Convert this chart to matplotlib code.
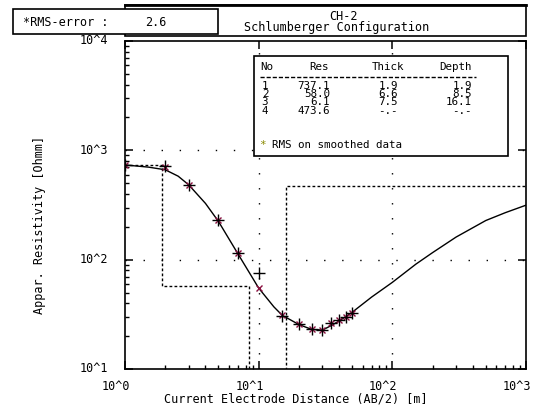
import matplotlib
matplotlib.use("Agg")
import matplotlib.pyplot as plt
import numpy as np
from matplotlib.ticker import LogLocator, NullFormatter
from matplotlib.patches import Rectangle
from matplotlib.lines import Line2D

# layered model (table values)
layer_no = [1, 2, 3, 4]
layer_res = [737.1, 58.0, 6.1, 473.6]
layer_thick = ['1.9', '6.6', '7.5', '-.-']
layer_depth = ['1.9', '8.5', '16.1', '-.-']
depths = [1.9, 8.5, 16.1]

# sounding data
ab2 = [1, 2, 3, 5, 7, 10, 15, 20, 25, 30, 35, 40, 45, 50]
rho_meas = [737, 721, 483, 230, 116, 75.3, 30.7, 25.8, 23.1, 22.9, 26.1, 28.0, 30.1, 32.5]
rho_smooth = [737, 700, 483, 230, 116, 55.2, 31.0, 25.8, 23.1, 22.9, 26.1, 28.0, 30.1, 32.5]

# model response curve
curve_x = [1, 1.5, 2, 2.5, 3, 4, 5, 7, 10, 13, 15, 20, 25, 30, 35, 40, 50,
           70, 100, 150, 200, 300, 500, 700, 1000]
curve_y = [735, 702, 664, 580, 483, 327, 224, 113, 55, 37, 31, 25.5, 23.0, 22.7,
           25.0, 27.5, 33.0, 45.5, 62, 91, 116, 161, 228, 269, 315]

W, H = 539, 408
FONT = 'DejaVu Sans Mono'
FS = 8.5
FS_TAB = 7.8


def fx(px):
    return px / W


def fy(py):
    return 1 - py / H


fig = plt.figure(figsize=(W / 100, H / 100), dpi=100)
ax = fig.add_axes([fx(125), fy(369), (526 - 125) / W, (369 - 41) / H])
ax.set_xscale('log')
ax.set_yscale('log')
ax.set_xlim(1, 1000)
ax.set_ylim(10, 10000)

for s in ax.spines.values():
    s.set_linewidth(1.2)

ax.xaxis.set_minor_locator(LogLocator(base=10, subs=range(2, 10)))
ax.yaxis.set_minor_locator(LogLocator(base=10, subs=range(2, 10)))
ax.xaxis.set_minor_formatter(NullFormatter())
ax.yaxis.set_minor_formatter(NullFormatter())
ax.set_xticks([1, 10, 100, 1000])
ax.set_yticks([10, 100, 1000, 10000])
ax.set_xticklabels([])
ax.set_yticklabels([])
ax.tick_params(which='major', direction='in', length=6, width=1.1,
               top=True, right=True, bottom=True, left=True)
ax.tick_params(which='minor', direction='in', length=3, width=1.0,
               top=False, right=False, bottom=True, left=True)

# dotted grid
for yv in [100, 1000]:
    ax.axhline(yv, color='black', lw=1.0, ls=(0, (1, 12)), zorder=1)
for xv in [10, 100]:
    ax.axvline(xv, color='black', lw=1.0, ls=(0, (1, 9.8)), zorder=1)

# model as dashed steps
mx = [1] + list(np.repeat(depths, 2)) + [1000]
my = list(np.repeat(layer_res, 2))
ax.plot(mx, my, color='black', lw=1.0, ls=(0, (2, 1.6)), zorder=2)

# response curve and data
ax.plot(curve_x, curve_y, color='black', lw=1.0, zorder=3)
ax.plot(ab2, rho_smooth, ls='none', marker='x', ms=5, mew=1.0, color='#8a1040', zorder=4)
ax.plot(ab2, rho_meas, ls='none', marker='+', ms=8, mew=1.0, color='black', zorder=5)

# tick labels
for v, lab in zip([1, 10, 100, 1000], ['10^0', '10^1', '10^2', '10^3']):
    x_ax = np.log10(v) / 3
    fig.text(fx(125 + x_ax * 401 - 9), fy(386), lab, family=FONT, fontsize=FS,
             ha='center', va='center')
for v, lab in zip([10, 100, 1000, 10000], ['10^1', '10^2', '10^3', '10^4']):
    y_ax = (np.log10(v) - 1) / 3
    fig.text(fx(108), fy(369 - y_ax * 328), lab, family=FONT, fontsize=FS,
             ha='right', va='center')

fig.text(fx(296), fy(399), 'Current Electrode Distance (AB/2) [m]', family=FONT,
         fontsize=FS, ha='center', va='center')
fig.text(fx(40), fy(225), 'Appar. Resistivity [Ohmm]', family=FONT, fontsize=FS,
         ha='center', va='center', rotation=90)

# title box and RMS box
fig.patches.append(Rectangle((fx(125), fy(36)), (526 - 125) / W, 31 / H,
                             transform=fig.transFigure, fill=False, lw=1.2,
                             edgecolor='black'))
fig.lines.append(Line2D([fx(125), fx(526)], [fy(5), fy(5)], transform=fig.transFigure,
                        color='black', lw=2.0))
fig.patches.append(Rectangle((fx(13), fy(34)), (218 - 13) / W, 25 / H,
                             transform=fig.transFigure, facecolor='white', lw=1.2,
                             edgecolor='black', zorder=3))
fig.text(fx(344), fy(16), 'CH-2', family=FONT, fontsize=FS, ha='center', va='center')
fig.text(fx(337), fy(27), 'Schlumberger Configuration', family=FONT, fontsize=FS,
         ha='center', va='center')
fig.text(fx(23), fy(22), '*RMS-error :', family=FONT, fontsize=FS, ha='left',
         va='center', zorder=4)
fig.text(fx(145), fy(22), '2.6', family=FONT, fontsize=FS, ha='left', va='center',
         zorder=4)

# layer table
tb = Rectangle((fx(254), fy(156)), (508 - 254) / W, (156 - 56) / H,
               transform=fig.transFigure, facecolor='white', edgecolor='black',
               lw=1.2, zorder=5)
fig.patches.append(tb)
kw = dict(family=FONT, fontsize=FS_TAB, va='center', zorder=6)
fig.text(fx(260), fy(67), 'No', ha='left', **kw)
fig.text(fx(329), fy(67), 'Res', ha='right', **kw)
fig.text(fx(388), fy(67), 'Thick', ha='center', **kw)
fig.text(fx(456), fy(67), 'Depth', ha='center', **kw)
fig.lines.append(Line2D([fx(260), fx(476)], [fy(76.5), fy(76.5)], transform=fig.transFigure,
                        color='black', lw=1.0, ls=(0, (3, 1.4)), zorder=6))
for i in range(4):
    yy = fy(86 + 8.2 * i)
    fig.text(fx(265), yy, str(layer_no[i]), ha='center', **kw)
    fig.text(fx(330), yy, f'{layer_res[i]:.1f}', ha='right', **kw)
    fig.text(fx(398), yy, layer_thick[i], ha='right', **kw)
    fig.text(fx(472), yy, layer_depth[i], ha='right', **kw)
fig.text(fx(259), fy(145), '*', ha='left', color='#8a8a00', **kw)
fig.text(fx(272), fy(145), 'RMS on smoothed data', ha='left', **kw)

fig.savefig('out.png', dpi=100)
